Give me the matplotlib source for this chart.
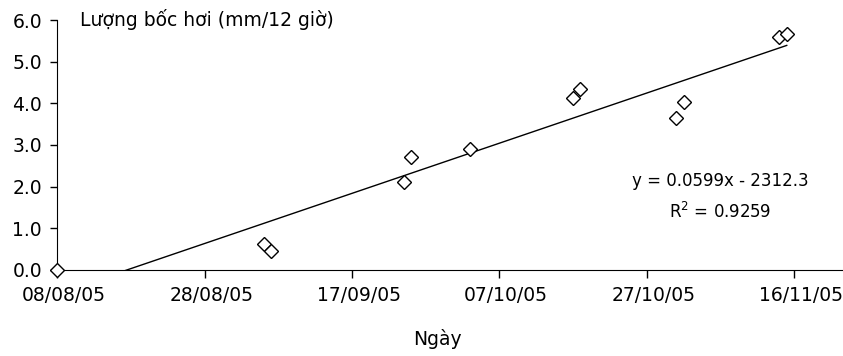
import numpy as np
import pandas as pd
import matplotlib
matplotlib.use('Agg')
import matplotlib.pyplot as plt
import matplotlib.dates as mdates
from matplotlib.transforms import ScaledTranslation

plt.rcParams['font.family'] = ['DejaVu Sans']

# số liệu
ngay = ['2005-08-08', '2005-09-05', '2005-09-06', '2005-09-24', '2005-09-25', '2005-10-03',
        '2005-10-17', '2005-10-18', '2005-10-31', '2005-11-01', '2005-11-14', '2005-11-15']
luong_boc_hoi = [0.0, 0.62, 0.44, 2.11, 2.72, 2.90, 4.13, 4.34, 3.64, 4.02, 5.60, 5.67]
moc_truc_x = ['2005-08-08', '2005-08-28', '2005-09-17', '2005-10-07', '2005-10-27', '2005-11-16']
moc_truc_y = [0.0, 1.0, 2.0, 3.0, 4.0, 5.0, 6.0]

dates = pd.to_datetime(ngay)
xnum = mdates.date2num(dates)

# đường xu hướng tuyến tính
a, b = np.polyfit(xnum - xnum[0], luong_boc_hoi, 1)
xl = np.array([xnum[0], xnum[-1]])
yl = a * (xl - xnum[0]) + b

fig = plt.figure(figsize=(8.43, 3.56), dpi=100)
ax = fig.add_axes([57.3 / 843, 86.3 / 356, (842 - 57.3) / 843, 249.6 / 356])

ax.plot(xl, yl, color='black', lw=1)
ax.plot(xnum, luong_boc_hoi, linestyle='none', marker='D', ms=7.5, mfc='white',
        mec='black', mew=1, clip_on=False, zorder=3)

ax.set_xlim(xnum[0], xnum[0] + 106.5)
ax.set_ylim(0, 6)
ax.set_xticks(mdates.date2num(pd.to_datetime(moc_truc_x)))
ax.xaxis.set_major_formatter(mdates.DateFormatter('%d/%m/%y'))
ax.set_yticks(moc_truc_y)
ax.set_yticklabels(['%.1f' % v for v in moc_truc_y])

for s in ['top', 'right']:
    ax.spines[s].set_visible(False)
ax.tick_params(axis='x', direction='out', length=6, width=1, labelsize=13.5, pad=6)
ax.tick_params(axis='y', direction='out', length=5, width=1, labelsize=13.5, pad=6)

# nhãn ngày lệch sang phải một chút như bản gốc
dx = ScaledTranslation(6.5 / 100, 0, fig.dpi_scale_trans)
for lab in ax.get_xticklabels():
    lab.set_transform(lab.get_transform() + dx)

fig.text(80 / 843, 1 - 20 / 356, 'Lượng bốc hơi (mm/12 giờ)', fontsize=13.5,
         ha='left', va='center')
fig.text(720 / 843, 1 - 181 / 356, 'y = 0.0599x - 2312.3', fontsize=12,
         ha='center', va='center')
fig.text(720 / 843, 1 - 212 / 356, 'R$^2$ = 0.9259', fontsize=12,
         ha='center', va='center')
fig.text(437 / 843, 1 - 339 / 356, 'Ngày', fontsize=13.5, ha='center', va='center')

plt.savefig('out.png', dpi=100)
